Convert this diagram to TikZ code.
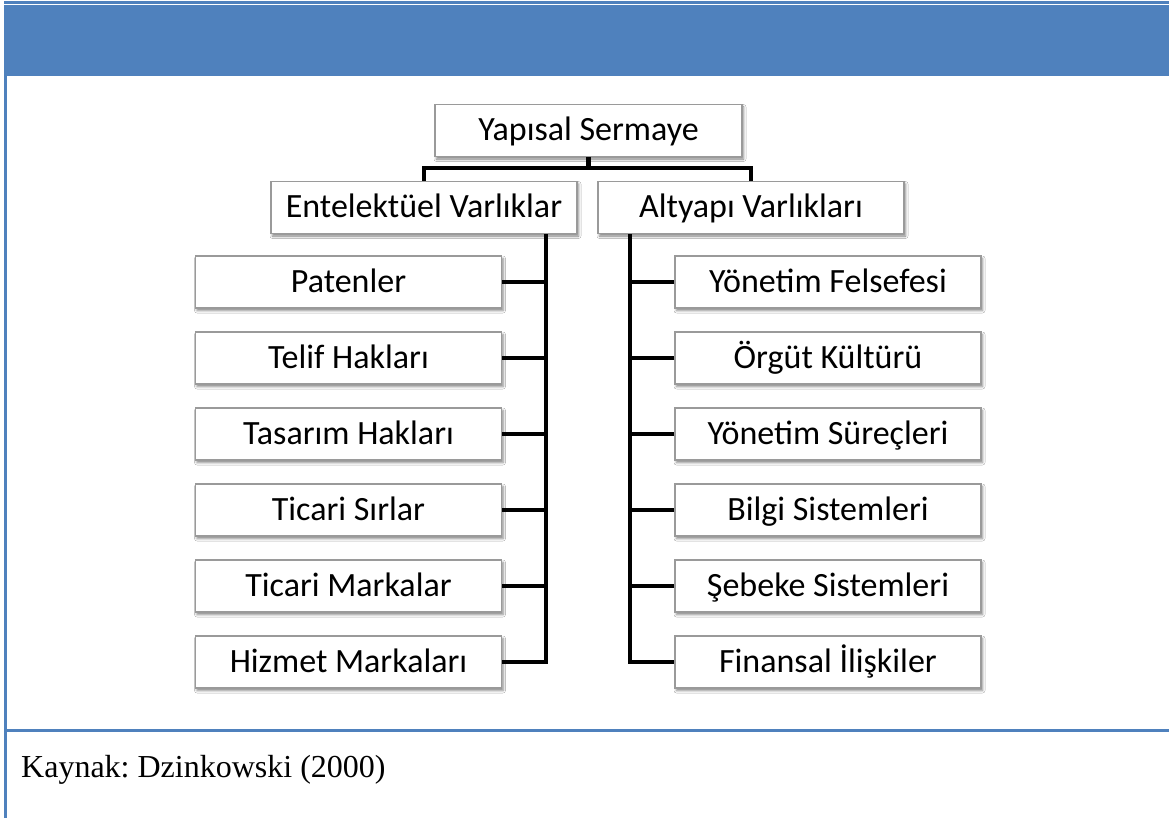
\documentclass[tikz,border=0pt]{standalone}
\usepackage{fontspec}
\setmainfont{Liberation Serif}
\newfontfamily\boxfont{Carlito}
\usetikzlibrary{shadows.blur}
\definecolor{frameblue}{HTML}{4F81BD}
\definecolor{boxline}{HTML}{9A9A9A}
\frenchspacing
\begin{document}
\begin{tikzpicture}[x=1pt,y=-1pt,
  itembox/.style={draw=boxline, line width=1.3pt, fill=white,
    minimum width=306pt, minimum height=52pt, inner sep=0pt,
    text height=24pt, text depth=4pt,
    font=\boxfont\fontsize{34}{38}\selectfont,
    blur shadow={shadow xshift=1.5pt, shadow yshift=-2.5pt,
      shadow blur radius=2.5pt, shadow opacity=50}},
  link/.style={line width=4.5pt, black, line cap=butt, line join=miter}]
  \useasboundingbox (0,0) rectangle (1169,818);
  % frame: header band, left rule and caption rule
  \fill[white] (0,0) rectangle (1169,818);
  \fill[frameblue] (4,1) rectangle (1169,4);
  \fill[frameblue] (4,5) rectangle (1169,76);
  \fill[frameblue] (4,76) rectangle (7,818);
  \fill[frameblue] (7,729) rectangle (1169,732);

  % hierarchy
  \node[itembox, minimum width=307pt] (root) at (588.5,130.5) {Yapısal Sermaye};
  \node[itembox] (ent) at (424,207.5) {Entelektüel Varlıklar};
  \node[itembox] (alt) at (751,207.5) {Altyapı Varlıkları};

  \node[itembox] (l1) at (348.5,282) {Patenler};
  \node[itembox] (l2) at (348.5,358) {Telif Hakları};
  \node[itembox] (l3) at (348.5,434) {Tasarım Hakları};
  \node[itembox] (l4) at (348.5,510) {Ticari Sırlar};
  \node[itembox] (l5) at (348.5,586) {Ticari Markalar};
  \node[itembox] (l6) at (348.5,662) {Hizmet Markaları};

  \node[itembox] (r1) at (828,282) {Yönetim Felsefesi};
  \node[itembox] (r2) at (828,358) {Örgüt Kültürü};
  \node[itembox] (r3) at (828,434) {Yönetim Süreçleri};
  \node[itembox] (r4) at (828,510) {Bilgi Sistemleri};
  \node[itembox] (r5) at (828,586) {Şebeke Sistemleri};
  \node[itembox] (r6) at (828,662) {Finansal İlişkiler};

  % connectors
  \draw[link] (root.south) -- ++(0,11) -| (ent.north);
  \draw[link] (root.south) ++(0,11) -| (alt.north);
  \draw[link] (ent.south -| 546,0) -- (546,662) -- (l6.east);
  \foreach \i in {1,...,5} \draw[link] (l\i.east) -- (l\i.east -| 546,0);
  \draw[link] (alt.south -| 630,0) -- (630,662) -- (r6.west);
  \foreach \i in {1,...,5} \draw[link] (r\i.west) -- (r\i.west -| 630,0);

  % source note
  \node[anchor=base west, font=\fontsize{32}{38}\selectfont, inner sep=0pt] (src) at (21,777) {Kaynak: Dzinkowski (2000)};
\end{tikzpicture}
\end{document}
